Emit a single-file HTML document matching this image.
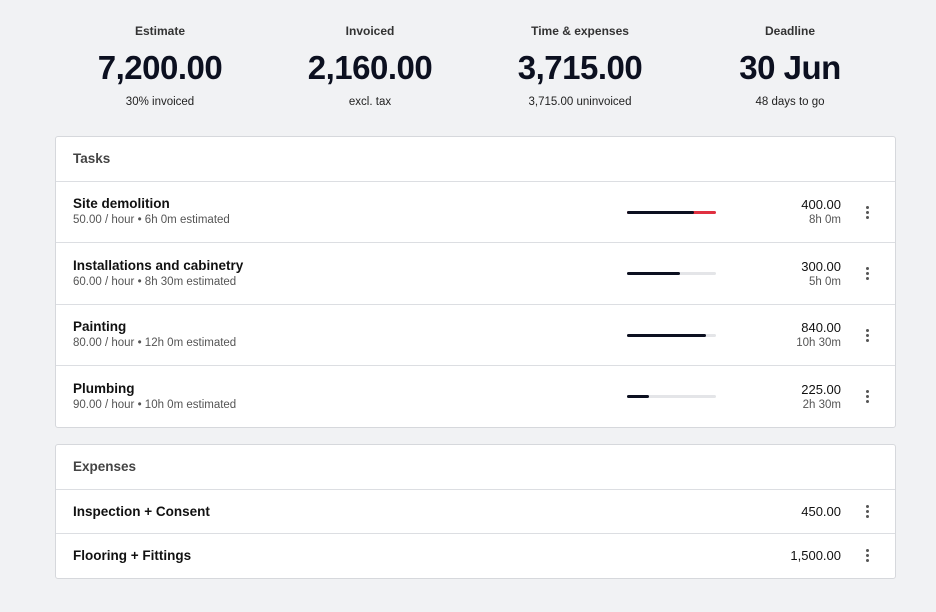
<!DOCTYPE html><html><head><style>
body{margin:0;width:936px;height:612px;background:#f1f2f4;font-family:"Liberation Sans",sans-serif;color:#111;position:relative;overflow:hidden}
.a{position:absolute;white-space:nowrap}
.c{transform:translateX(-50%);text-align:center}
.lab{font-size:12px;font-weight:bold;color:#333}
.big{font-size:33px;font-weight:bold;letter-spacing:-0.5px;color:#0c1020}
.sub{font-size:11.5px;color:#222}
.card{position:absolute;left:55px;width:839px;background:#fff;border:1px solid #d6d8dc;border-radius:3px}
.hl{position:absolute;left:0;right:0;height:1px;background:#dcdee2}
.t{font-size:13.5px;font-weight:bold;color:#111}
.s{font-size:11.5px;color:#555}
.r{text-align:right;transform:translateX(-100%)}
.bar{position:absolute;left:627px;width:89px;height:3px;background:#e4e5e8;border-radius:2px}
.bar i{position:absolute;left:0;top:0;height:3px;background:#0c1020;border-radius:2px}
.dot{position:absolute;width:3px}
.dot b{display:block;width:3px;height:3px;border-radius:50%;background:#555;margin-bottom:2px}
</style></head><body>
<div class="a c lab" style="left:160px;top:24px">Estimate</div>
<div class="a c big" style="left:160px;top:49px">7,200.00</div>
<div class="a c sub" style="left:160px;top:96px">30% invoiced</div>
<div class="a c lab" style="left:370px;top:24px">Invoiced</div>
<div class="a c big" style="left:370px;top:49px">2,160.00</div>
<div class="a c sub" style="left:370px;top:96px">excl. tax</div>
<div class="a c lab" style="left:580px;top:24px">Time &amp; expenses</div>
<div class="a c big" style="left:580px;top:49px">3,715.00</div>
<div class="a c sub" style="left:580px;top:96px">3,715.00 uninvoiced</div>
<div class="a c lab" style="left:790px;top:24px">Deadline</div>
<div class="a c big" style="left:790px;top:49px">30 Jun</div>
<div class="a c sub" style="left:790px;top:96px">48 days to go</div>

<div class="card" style="top:136px;height:290px">
<div class="hl" style="top:44px"></div><div class="hl" style="top:105px"></div><div class="hl" style="top:167px"></div><div class="hl" style="top:228px"></div>
</div>
<div class="a" style="left:73px;top:151px;font-size:13.5px;font-weight:bold;color:#444">Tasks</div>

<div class="a t" style="left:73px;top:196px">Site demolition</div>
<div class="a s" style="left:73px;top:214px">50.00 / hour • 6h 0m estimated</div>
<div class="bar" style="top:211px;background:#e03040"><i style="width:67px"></i></div>
<div class="a r" style="left:841px;top:197px;font-size:13px">400.00</div>
<div class="a s r" style="left:841px;top:214px">8h 0m</div>
<div class="dot" style="left:866px;top:206px"><b></b><b></b><b></b></div>

<div class="a t" style="left:73px;top:258px">Installations and cabinetry</div>
<div class="a s" style="left:73px;top:276px">60.00 / hour • 8h 30m estimated</div>
<div class="bar" style="top:272px"><i style="width:53px"></i></div>
<div class="a r" style="left:841px;top:259px;font-size:13px">300.00</div>
<div class="a s r" style="left:841px;top:276px">5h 0m</div>
<div class="dot" style="left:866px;top:267px"><b></b><b></b><b></b></div>

<div class="a t" style="left:73px;top:319px">Painting</div>
<div class="a s" style="left:73px;top:337px">80.00 / hour • 12h 0m estimated</div>
<div class="bar" style="top:334px"><i style="width:79px"></i></div>
<div class="a r" style="left:841px;top:320px;font-size:13px">840.00</div>
<div class="a s r" style="left:841px;top:337px">10h 30m</div>
<div class="dot" style="left:866px;top:329px"><b></b><b></b><b></b></div>

<div class="a t" style="left:73px;top:381px">Plumbing</div>
<div class="a s" style="left:73px;top:399px">90.00 / hour • 10h 0m estimated</div>
<div class="bar" style="top:395px"><i style="width:22px"></i></div>
<div class="a r" style="left:841px;top:382px;font-size:13px">225.00</div>
<div class="a s r" style="left:841px;top:399px">2h 30m</div>
<div class="dot" style="left:866px;top:390px"><b></b><b></b><b></b></div>

<div class="card" style="top:444px;height:133px">
<div class="hl" style="top:44px"></div><div class="hl" style="top:88px"></div>
</div>
<div class="a" style="left:73px;top:459px;font-size:13.5px;font-weight:bold;color:#444">Expenses</div>
<div class="a t" style="left:73px;top:504px">Inspection + Consent</div>
<div class="a r" style="left:841px;top:504px;font-size:13px">450.00</div>
<div class="dot" style="left:866px;top:505px"><b></b><b></b><b></b></div>
<div class="a t" style="left:73px;top:548px">Flooring + Fittings</div>
<div class="a r" style="left:841px;top:548px;font-size:13px">1,500.00</div>
<div class="dot" style="left:866px;top:549px"><b></b><b></b><b></b></div>
</body></html>
